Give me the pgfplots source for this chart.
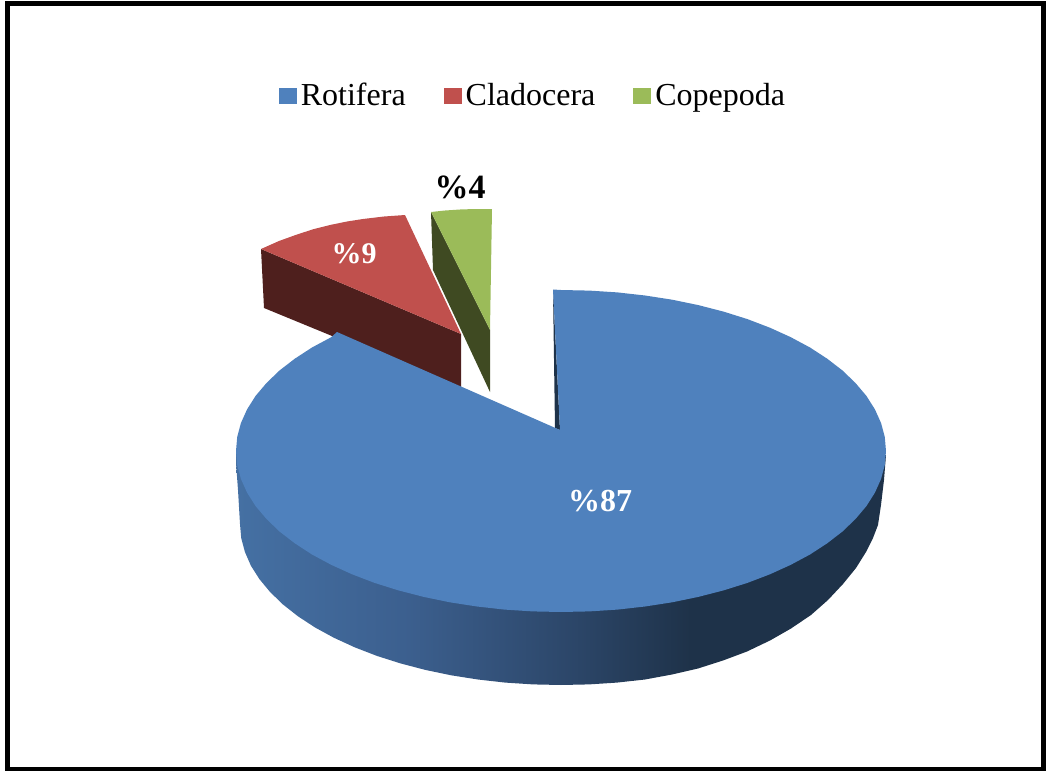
\documentclass[border=0pt]{standalone}
\usepackage{fontspec}
\setmainfont{Liberation Serif}
\usepackage{pgfplots}
\pgfplotsset{compat=1.18}
\definecolor{rotifera}{HTML}{4F81BD}
\definecolor{cladocera}{HTML}{C0504D}
\definecolor{copepoda}{HTML}{9BBB59}
\definecolor{cladoceraside}{HTML}{4E1F1D}
\definecolor{copepodaside}{HTML}{3F4A22}
\definecolor{rimdark}{HTML}{1E3249}
% rim of the large slice, lit from the left
\pgfdeclarehorizontalshading{rim}{100bp}{%
  rgb(0bp)=(0.27,0.44,0.64);
  rgb(25bp)=(0.27,0.44,0.64);
  rgb(38bp)=(0.235,0.375,0.56);
  rgb(51bp)=(0.172,0.275,0.41);
  rgb(60bp)=(0.118,0.196,0.286);
  rgb(100bp)=(0.118,0.196,0.286)}
\begin{document}
\begin{tikzpicture}
\useasboundingbox (0,0) rectangle (525.5pt,385.5pt);
\begin{axis}[
  at={(0,0)}, anchor=south west,
  scale only axis, width=525.5pt, height=385.5pt,
  xmin=0, xmax=1051, ymin=0, ymax=771, y dir=reverse,
  hide axis, clip=false,
  legend columns=3,
  legend cell align=left,
  legend style={draw=none, fill=none, at={(axis cs:534,96)}, anchor=center,
    font=\fontsize{16}{19}\selectfont,
    /tikz/every even column/.append style={column sep=17pt}},
  legend image code/.code={\path[draw=none,#1] (0.5pt,-4pt) rectangle (9.5pt,4pt);},
]
% outer frame
\addplot[forget plot, black, line width=2.5pt, line join=miter] coordinates
  {(7.5,3) (1043.5,3) (1043.5,769.5) (7.5,769.5) (7.5,3) (1043.5,3)};

% small exploded slice, Copepoda
\addplot[forget plot, draw=none, fill=copepodaside] coordinates
  {(431,212) (490,330) (490,392) (433,270)} --cycle;
\addplot[forget plot, draw=none, fill=copepoda] coordinates
  {(431,212) (445,210.5) (460,209.5) (475,209) (492,209) (490,330)} --cycle;

% exploded slice, Cladocera
\addplot[forget plot, draw=none, fill=cladoceraside] coordinates
  {(261,249) (461,334) (461,389) (264,308)} --cycle;
\addplot[forget plot, draw=none, fill=cladocera] coordinates
  {(261,249) (279,241) (297,234.5) (314,229) (330,225) (347,221.5) (363,219) (384,216.5) (405,215) (461,334)} --cycle;

% rim of the main slice
\addplot[forget plot, draw=none, shading=rim] coordinates {
  (236,451) (236,463) (238,490) (240,524) (241.2,538) (244.9,551.9) (250.9,565.7)
  (259.4,579.1) (270.1,592) (283,604.5) (298,616.3) (315.1,627.5) (334,637.8)
  (354.7,647.3) (376.9,655.9) (400.5,663.4) (425.3,669.9) (451.2,675.3) (477.9,679.5)
  (505.3,682.6) (533,684.4) (561,685) (589,684.4) (617,682.6) (645,679.5) (672,674.5)
  (698,668.5) (723,660.5) (747,651.5) (770,640.5) (791,628.5) (811,615) (828,600)
  (843,584) (856,568) (866,552) (873,538) (878,525) (881,505) (884,480) (886,455)
} --cycle;
% cut face of the main slice
\addplot[forget plot, draw=none, fill=rimdark] coordinates
  {(553,289.5) (560,430) (555,428)} --cycle;
% top of the main slice, Rotifera
\addplot[forget plot, draw=none, fill=rotifera] coordinates {
  (560,430) (337,332) (331.2,337.2) (312,347.5) (294.8,358.7) (279.5,370.5) (266.5,383)
  (255.6,395.9) (247.1,409.3) (240.9,423.1) (237.2,437) (236,451)
  (237.2,465) (240.9,478.9) (247.1,492.7) (255.6,506.1) (266.5,519) (279.5,531.5)
  (294.8,543.3) (312,554.5) (331.2,564.8) (352.1,574.3) (374.6,582.9) (398.5,590.4)
  (423.7,596.9) (449.8,602.3) (476.9,606.5) (504.6,609.6) (532.7,611.4) (561,612)
  (589.3,611.4) (617.4,609.6) (645.1,606.5) (672.2,602.3) (698.3,596.9) (723.5,590.4)
  (747.4,582.9) (769.9,574.3) (790.8,564.8) (810,554.5) (827.2,543.3) (842.5,531.5)
  (855.5,519) (866.4,506.1) (874.9,492.7) (881.1,478.9) (884.8,465) (886,451)
  (884.8,437) (881.1,423.1) (874.9,409.3) (866.4,395.9) (855.5,383) (842.5,370.5)
  (827.2,358.7) (810,347.5) (790.8,337.2) (769.9,327.7) (747.4,319.1) (723.5,311.6)
  (698.3,305.1) (672.2,299.7) (645.1,295.5) (617.4,292.4) (589.3,290.6) (561,290) (553,289.5)
} --cycle;

% legend keys
\addlegendimage{fill=rotifera}
\addlegendentry{Rotifera}
\addlegendimage{fill=cladocera}
\addlegendentry{Cladocera}
\addlegendimage{fill=copepoda}
\addlegendentry{Copepoda}

% slice labels
\node[text=white, font=\fontsize{16}{18}\selectfont\bfseries] at (axis cs:600,501) {\%87};
\node[text=white, font=\fontsize{15}{18}\selectfont\bfseries] at (axis cs:354,254) {\%9};
\node[text=black, font=\fontsize{17}{18}\selectfont\bfseries] at (axis cs:460,187) {\%4};
\end{axis}
\end{tikzpicture}
\end{document}
